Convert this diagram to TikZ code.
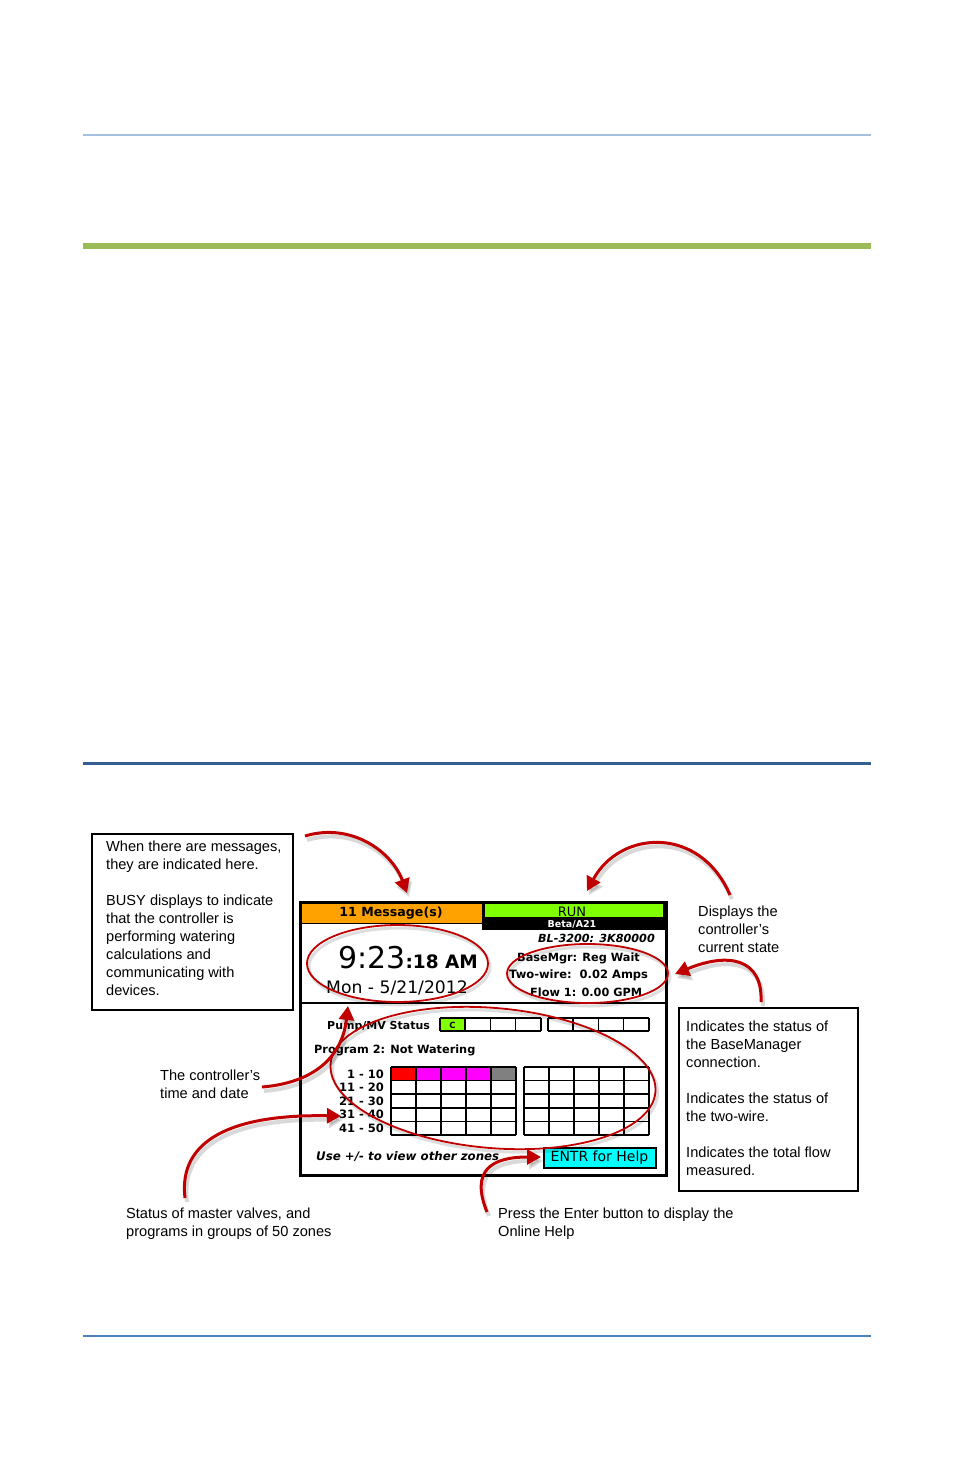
\documentclass[tikz,border=0pt]{standalone}
\usepackage{fontspec}
\setmainfont{Liberation Sans}
\newfontfamily\scrf{DejaVu Sans}
\usetikzlibrary{arrows.meta}
\definecolor{arr}{RGB}{192,0,0}
\definecolor{rulelight}{RGB}{167,191,222}
\definecolor{rulegreen}{RGB}{155,187,89}
\definecolor{ruledark}{RGB}{54,95,145}
\definecolor{rulemid}{RGB}{79,129,189}
\definecolor{scrorange}{RGB}{255,162,0}
\definecolor{scrgreen}{RGB}{128,255,0}
\definecolor{scrcyan}{RGB}{0,255,255}
\definecolor{scrmag}{RGB}{255,0,255}
\definecolor{scrred}{RGB}{255,0,0}
\definecolor{scrgray}{RGB}{128,128,128}
\begin{document}
\begin{tikzpicture}[x=1pt,y=-1pt,
  annot/.style={font=\fontsize{14.6}{18}\selectfont, align=left, anchor=north west, inner sep=0pt, text=black},
  annbox/.style={draw=black, line width=1.8pt, anchor=north west, inner sep=0pt},
  sb/.style={font=\scrf\bfseries\fontsize{#1}{#1}\selectfont, inner sep=0pt},
  sr/.style={font=\scrf\fontsize{#1}{#1}\selectfont, inner sep=0pt},
  sbi/.style={font=\scrf\bfseries\itshape\fontsize{#1}{#1}\selectfont, inner sep=0pt},
  gridline/.style={draw=black, line width=1.5pt},
  ring/.style={draw=arr, line width=1.8pt},
  ringshadow/.style={draw=black, draw opacity=0.13, line width=3pt, transform canvas={shift={(2pt,-3pt)}}},
  redarrow/.style={draw=arr, line width=3pt, -{Triangle[length=14pt,width=15pt]}},
  arrowshadow/.style={draw=black, draw opacity=0.15, fill opacity=0.15, line width=4pt, -{Triangle[length=14pt,width=16pt]}, transform canvas={shift={(2pt,-4pt)}}}
]
\useasboundingbox (0,0) rectangle (954,1474);
\fill[white] (0,0) rectangle (954,1474);

% page rules
\draw[rulelight, line width=2pt] (83,135) -- (871,135);
\draw[rulegreen, line width=6.5pt] (83,246) -- (871,246);
\draw[ruledark, line width=3.7pt] (83,763.5) -- (871,763.5);
\draw[rulemid, line width=2.2pt] (83,1336) -- (871,1336);

% ---------- screen ----------
\fill[scrorange] (300,902) rectangle (482,923);
\fill[black] (482,901) rectangle (665,930);
\fill[scrgreen] (485,903.5) rectangle (663,917);
\draw[black, line width=1.5pt] (300,923.5) -- (482,923.5);
\node (scr) [draw=black, line width=3pt, minimum width=366pt, minimum height=273pt, anchor=north west, inner sep=0pt] at (299,901) {};
\draw[black, line width=2.5pt] (299,1003) -- (665,1003);

\node (msg) [sb=12.6, anchor=base] at (391,916.5) {11 Message(s)};
\node (run) [sr=13, anchor=base] at (572,916) {RUN};
\node (beta) [sb=9.5, anchor=base, text=white] at (572,927.5) {Beta/A21};
\node (model) [sbi=11.2, anchor=base east] at (655,942) {BL-3200: 3K80000};
\node (time) [anchor=base west, inner sep=0pt] at (338,968) {{\scrf\fontsize{30}{30}\selectfont 9:23}{\scrf\bfseries\fontsize{18.5}{18.5}\selectfont :18 AM}};
\node (date) [sr=17.2, anchor=base west] at (326,993) {Mon - 5/21/2012};
\node (bm) [sb=11.3, anchor=base west] at (517,961) {BaseMgr: Reg Wait};
\node (tw) [sb=11.5, anchor=base west] at (509,978.5) {Two-wire:\ \ 0.02 Amps};
\node (flow) [sb=11.3, anchor=base west] at (530,996) {Flow 1: 0.00 GPM};

% pump / MV status
\fill[scrgreen] (440,1018) rectangle (465,1031);
\foreach \gx in {440,548}{
  \foreach \i in {0,...,4} \draw[gridline] (\gx+25.2*\i,1018) -- (\gx+25.2*\i,1031);
  \draw[gridline] (\gx,1018) -- (\gx+100.8,1018);
  \draw[gridline] (\gx,1031) -- (\gx+100.8,1031);
}
\node (pumpC) [sb=8.5, anchor=base] at (452.5,1028) {C};
\node (pump) [sb=11, anchor=base west] at (327,1029) {Pump/MV Status};
\node (prog) [sb=11.3, anchor=base west] at (314,1053) {Program 2: Not Watering};

% zone grids
\fill[scrred] (391,1067) rectangle (416,1080.6);
\fill[scrmag] (416,1067) rectangle (491,1080.6);
\fill[scrgray] (491,1067) rectangle (516,1080.6);
\foreach \gx in {391,524}{
  \foreach \i in {0,...,5} \draw[gridline] (\gx+25*\i,1067) -- (\gx+25*\i,1135);
  \foreach \j in {0,...,5} \draw[gridline] (\gx,1067+13.6*\j) -- (\gx+125,1067+13.6*\j);
}
\node (r1) [sb=11.5, anchor=base east] at (384,1078) {1 - 10};
\node (r2) [sb=11.5, anchor=base east] at (384,1091.6) {11 - 20};
\node (r3) [sb=11.5, anchor=base east] at (384,1105.2) {21 - 30};
\node (r4) [sb=11.5, anchor=base east] at (384,1118.8) {31 - 40};
\node (r5) [sb=11.5, anchor=base east] at (384,1132.4) {41 - 50};
\node (use) [sbi=11.8, anchor=base west] at (316,1160) {Use +/- to view other zones};
\node (entr) [draw=black, line width=2pt, fill=scrcyan, minimum width=112pt, minimum height=20pt, inner sep=0pt, font=\scrf\fontsize{14}{14}\selectfont] at (599.5,1157.5) {ENTR for Help};

% red rings
\draw[ringshadow] (397.5,963.5) ellipse [x radius=90.5, y radius=38.5];
\draw[ringshadow] (587.5,973.5) ellipse [x radius=80.5, y radius=29.5];
\draw[ringshadow, rotate around={-5:(493,1078)}] (493,1078) ellipse [x radius=163, y radius=70];
\draw[ring] (397.5,963.5) ellipse [x radius=90.5, y radius=38.5];
\draw[ring] (587.5,973.5) ellipse [x radius=80.5, y radius=29.5];
\draw[ring, rotate around={-5:(493,1078)}] (493,1078) ellipse [x radius=163, y radius=70];

% ---------- annotations ----------
\node (lbox) [annbox, minimum width=201pt, minimum height=176pt] at (91,833) {};
\node (ltext) [annot] at (106,840.8) {When there are messages,\\they are indicated here.\\[18pt]BUSY displays to indicate\\that the controller is\\performing watering\\calculations and\\communicating with\\devices.};
\node (rbox) [annbox, minimum width=179pt, minimum height=183pt] at (678,1007) {};
\node (rtext) [annot] at (686,1020.8) {Indicates the status of\\the BaseManager\\connection.\\[18pt]Indicates the status of\\the two-wire.\\[18pt]Indicates the total flow\\measured.};
\node (state) [annot] at (698,905.8) {Displays the\\controller's\\current state};
\node (timelbl) [annot] at (160,1069.8) {The controller's\\time and date};
\node (statlbl) [annot] at (126,1207.8) {Status of master valves, and\\programs in groups of 50 zones};
\node (helplbl) [annot] at (498,1207.8) {Press the Enter button to display the\\Online Help};

% arrow end points
\coordinate (a1s) at (305,836);   \coordinate (a1e) at (407,893);
\coordinate (a2s) at (730,895);   \coordinate (a2e) at (587,891);
\coordinate (a3s) at (761,1002);  \coordinate (a3e) at (675,974);
\coordinate (a4s) at (262,1087);  \coordinate (a4e) at (348,1006);
\coordinate (a5s) at (185,1198);  \coordinate (a5e) at (341,1116);
\coordinate (a6s) at (487,1212);  \coordinate (a6e) at (541,1157);

\foreach \st in {arrowshadow,redarrow}{
  \draw[\st] (a1s) .. controls (352,822) and (392,852) .. (a1e);
  \draw[\st] (a2s) .. controls (700,825) and (620,830) .. (a2e);
  \draw[\st] (a3s) .. controls (763,958) and (728,952) .. (a3e);
  \draw[\st] (a4s) .. controls (322,1082) and (343,1050) .. (a4e);
  \draw[\st] (a5s) .. controls (178,1140) and (232,1114) .. (a5e);
  \draw[\st] (a6s) .. controls (470,1170) and (492,1157) .. (a6e);
}
\end{tikzpicture}
\end{document}
